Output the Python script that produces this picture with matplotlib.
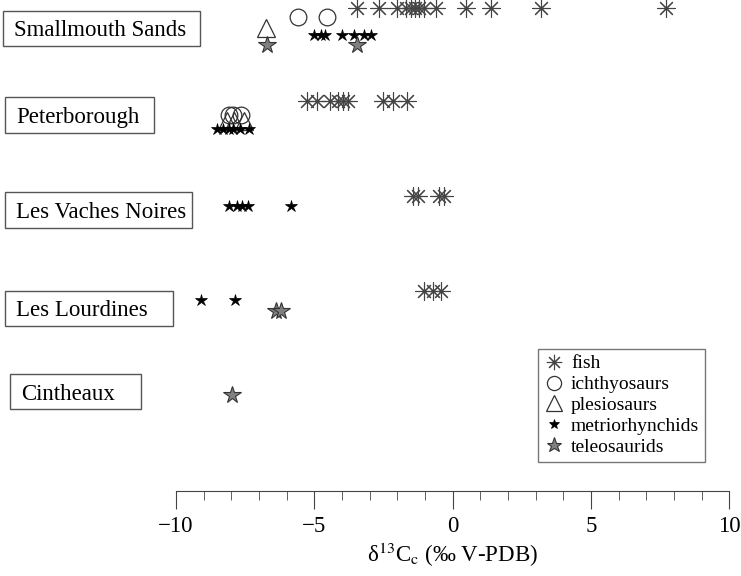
import matplotlib.pyplot as plt
from matplotlib.patches import Rectangle
from matplotlib.lines import Line2D

plt.rcParams['font.family'] = ['Liberation Serif', 'DejaVu Serif']
plt.rcParams['mathtext.fontset'] = 'stix'

# d13C values (per mil V-PDB)
sites = ['Smallmouth Sands', 'Peterborough', 'Les Vaches Noires', 'Les Lourdines', 'Cintheaux']
groups = ['fish', 'ichthyosaurs', 'plesiosaurs', 'metriorhynchids', 'teleosaurids']

smallmouth_fish = [-3.45, -2.65, -2.0, -1.7, -1.5, -1.35, -1.2, -1.05, -0.6, 0.5, 1.37, 3.18, 7.7]
smallmouth_ichthyo = [-5.58, -4.55]
smallmouth_plesio = [-6.76]
smallmouth_metrio = [-5.0, -4.77, -4.6, -4.0, -3.55, -3.2, -2.95]
smallmouth_teleo = [-6.7, -3.44]

peterborough_fish = [-5.25, -4.9, -4.45, -4.15, -3.95, -3.8, -2.5, -2.15, -1.65]
peterborough_ichthyo = [-8.1, -7.95, -7.65]
peterborough_plesio = [-8.15, -7.9, -7.55]
peterborough_metrio = [-8.5, -8.3, -8.1, -7.95, -7.7, -7.35]

lvn_fish = [-1.45, -1.25, -0.5, -0.3]
lvn_metrio = [-8.1, -7.8, -7.6, -7.4, -5.85]

lourdines_fish = [-1.03, -0.72, -0.42]
lourdines_metrio = [-9.08, -7.85]
lourdines_teleo = [-6.4, -6.22]

cintheaux_teleo = [-7.97]

data = {
    'Smallmouth Sands': {'fish': smallmouth_fish, 'ichthyosaurs': smallmouth_ichthyo,
                         'plesiosaurs': smallmouth_plesio, 'metriorhynchids': smallmouth_metrio,
                         'teleosaurids': smallmouth_teleo},
    'Peterborough': {'fish': peterborough_fish, 'ichthyosaurs': peterborough_ichthyo,
                     'plesiosaurs': peterborough_plesio, 'metriorhynchids': peterborough_metrio},
    'Les Vaches Noires': {'fish': lvn_fish, 'metriorhynchids': lvn_metrio},
    'Les Lourdines': {'fish': lourdines_fish, 'metriorhynchids': lourdines_metrio,
                      'teleosaurids': lourdines_teleo},
    'Cintheaux': {'teleosaurids': cintheaux_teleo},
}

# vertical placement of each group inside each row (pixel rows from the top)
row_y = {
    'Smallmouth Sands': {'fish': 8, 'ichthyosaurs': 17, 'plesiosaurs': 28, 'metriorhynchids': 35, 'teleosaurids': 45},
    'Peterborough': {'fish': 101, 'ichthyosaurs': 115, 'plesiosaurs': 121, 'metriorhynchids': 129},
    'Les Vaches Noires': {'fish': 196, 'metriorhynchids': 206},
    'Les Lourdines': {'fish': 291, 'metriorhynchids': 300, 'teleosaurids': 311},
    'Cintheaux': {'teleosaurids': 395},
}

# label boxes: x0, x1, y0, y1 in pixels from top-left
label_boxes = {
    'Smallmouth Sands': (3, 200, 11, 46),
    'Peterborough': (5, 154, 97, 133),
    'Les Vaches Noires': (5, 192, 192, 228),
    'Les Lourdines': (5, 173, 291, 326),
    'Cintheaux': (10, 141, 374, 409),
}

styles = {
    'fish': dict(marker=(8, 2, 0), ms=13, mec='#444444', mfc='none', mew=0.8),
    'ichthyosaurs': dict(marker='o', ms=12, mec='#333333', mfc='none', mew=0.9),
    'plesiosaurs': dict(marker='^', ms=13, mec='#333333', mfc='none', mew=0.9),
    'metriorhynchids': dict(marker='*', ms=9, mec='black', mfc='black', mew=0.5),
    'teleosaurids': dict(marker='*', ms=13, mec='#333333', mfc='#808080', mew=0.8),
}

W, H = 741, 576
fig = plt.figure(figsize=(W / 100, H / 100), dpi=100)
ax_bottom = 490.7
ax = fig.add_axes([176 / W, (H - ax_bottom) / H, (729.3 - 176) / W, ax_bottom / H])
ax.set_xlim(-10, 10)
ax.set_ylim(ax_bottom, 0)

for site in sites:
    for g in groups:
        if g in data[site]:
            xs = data[site][g]
            ax.plot(xs, [row_y[site][g]] * len(xs), ls='none', clip_on=False, **styles[g])

for side in ['left', 'top', 'right']:
    ax.spines[side].set_visible(False)
ax.spines['bottom'].set_color('#444444')
ax.set_yticks([])
ax.set_xticks([-10, -5, 0, 5, 10])
ax.set_xticks(range(-10, 11), minor=True)
ax.tick_params(axis='x', which='major', length=13, color='#444444', labelsize=16.5, pad=5)
ax.tick_params(axis='x', which='minor', length=6.5, color='#444444')
ax.set_xlabel(r'δ$^{13}$C$_\mathrm{c}$ (‰ V-PDB)', fontsize=16.5, labelpad=3)

for site in sites:
    x0, x1, y0, y1 = label_boxes[site]
    fig.add_artist(Rectangle((x0 / W, 1 - y1 / H), (x1 - x0) / W, (y1 - y0) / H,
                             transform=fig.transFigure, fill=False, ec='#555555', lw=1))
    fig.text((x0 + 11) / W, 1 - (y0 + y1) / 2 / H, site, fontsize=16.5, ha='left', va='center_baseline')

handles = [Line2D([], [], ls='none', **styles[g]) for g in groups]
leg = fig.legend(handles, groups, loc='upper left', bbox_to_anchor=(538 / W, 1 - 349 / H),
                 fontsize=14, frameon=True, fancybox=False, edgecolor='#555555',
                 handlelength=1.0, handletextpad=0.4, labelspacing=0.17, borderpad=0.3,
                 borderaxespad=0, markerscale=0.85)
leg.get_frame().set_linewidth(1)

fig.savefig('out.png', dpi=100)
